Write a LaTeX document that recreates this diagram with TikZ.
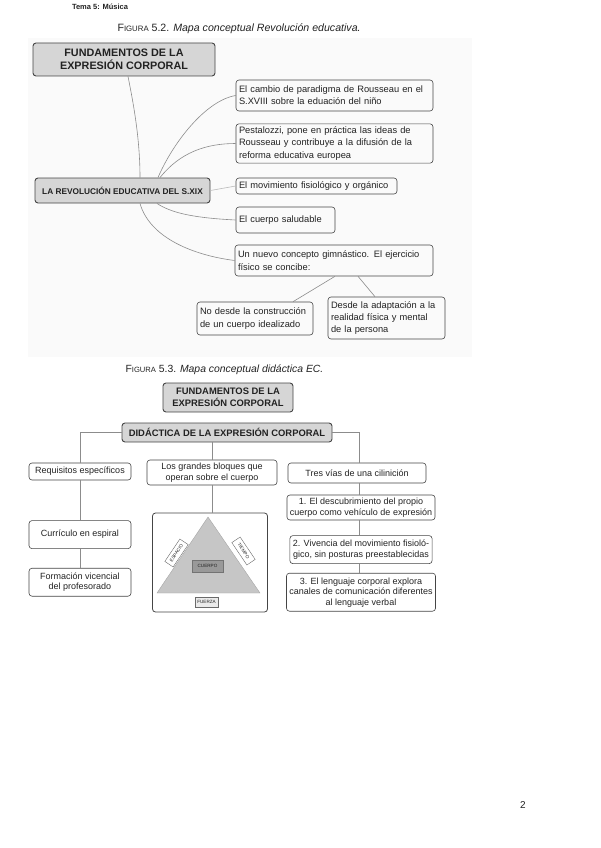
\documentclass[tikz,border=0pt]{standalone}
\usepackage{fontspec}
\setmainfont{Liberation Sans}
\usetikzlibrary{positioning}
\definecolor{ink}{HTML}{222222}
\definecolor{edge}{HTML}{454545}
\definecolor{wire}{HTML}{8C8C8C}
\definecolor{head}{HTML}{D6D6D6}
\definecolor{trigray}{HTML}{C6C6C6}
\tikzset{
  nd/.style={rectangle, rounded corners=3pt, draw=edge, line width=0.6pt, text=ink, inner sep=3pt},
  ndl/.style={nd, align=left, font=\fontsize{9.3}{12.3}\selectfont},
  ndc/.style={nd, align=center, font=\fontsize{9}{10.5}\selectfont},
  hd/.style={rectangle, rounded corners=3pt, draw=edge, line width=0.9pt, fill=head, text=ink, align=center},
  ln/.style={draw=wire, line width=0.6pt},
  tag/.style={rectangle, draw=edge!80, fill=white, line width=0.4pt, inner sep=1pt, text=ink, font=\fontsize{4.6}{5}\selectfont},
  node distance=12pt
}
\begin{document}
\begin{tikzpicture}[x=1pt,y=-1pt]
	\useasboundingbox (0,0) rectangle (600,848);
	\fill[black!2] (28,38) rectangle (472,357);

	% heading and captions
	\node[text=ink, font=\bfseries\fontsize{7.5}{9}\selectfont] (tema) at (100,7) {Tema 5: Música};
	\node[text=ink, anchor=west, font=\fontsize{10.6}{12}\selectfont] (cap1) at (114,29) {F{\fontsize{7.8}{9}\selectfont IGURA} 5.2. \textit{Mapa conceptual Revolución educativa.}};
	\node[text=ink, anchor=west, font=\fontsize{10.4}{12}\selectfont] (cap2) at (122,370) {F{\fontsize{7.6}{9}\selectfont IGURA} 5.3. \textit{Mapa conceptual didáctica EC.}};
	\node[text=ink, font=\fontsize{10}{12}\selectfont] (page) at (523,805) {2};

	% Figura 5.2
	\node[hd, minimum width=182pt, minimum height=33pt, font=\bfseries\fontsize{10.8}{12.5}\selectfont] (fund) at (124,59.5) {FUNDAMENTOS DE LA\\EXPRESIÓN CORPORAL};
	\node[hd, minimum width=175pt, minimum height=25pt, font=\bfseries\fontsize{8.3}{10}\selectfont] (rev) at (122.5,190.5) {LA REVOLUCIÓN EDUCATIVA DEL S.XIX};
	\node[ndl, text width=191pt, minimum height=31pt] (rousseau) at (334.5,95.5) {El cambio de paradigma de Rousseau en el\\S.XVIII sobre la eduación del niño};
	\node[ndl, text width=191pt, minimum height=39pt] (pestalozzi) at (334.5,143.5) {Pestalozzi, pone en práctica las ideas de\\Rousseau y contribuye a la difusión de la\\reforma educativa europea};
	\node[ndl, text width=155pt, minimum height=16pt] (fisio) at (316.5,186) {El movimiento fisiológico y orgánico};
	\node[ndl, text width=93pt, minimum height=26pt] (salud) at (285.5,220) {El cuerpo saludable};
	\node[ndl, text width=192pt, minimum height=31pt] (gimna) at (334,260.5) {Un nuevo concepto gimnástico. El ejercicio\\físico se concibe:};
	\node[ndl, text width=110pt, minimum height=33pt] (ideal) at (255,318.5) {No desde la construcción\\de un cuerpo idealizado};
	\node[ndl, text width=111pt, minimum height=42pt] (adapt) at (386.5,318) {Desde la adaptación a la\\realidad física y mental\\de la persona};

	\draw[ln] ([xshift=4pt]fund.south) .. controls +(5,25) and +(0,-40) .. ([xshift=17.5pt]rev.north);
	\draw[ln] ([xshift=35.5pt]rev.north) .. controls +(15,-35) and +(-30,5) .. (rousseau.west);
	\draw[ln] ([xshift=37.5pt]rev.north) .. controls +(20,-25) and +(-30,0) .. (pestalozzi.west);
	\draw[ln, draw=wire!60] (rev.east) -- (fisio.west);
	\draw[ln] ([xshift=34.5pt]rev.south) .. controls +(15,10) and +(-40,-2) .. (salud.west);
	\draw[ln] ([xshift=17.5pt]rev.south) .. controls +(10,35) and +(-40,-5) .. (gimna.west);
	\draw[ln] ([xshift=1pt]gimna.south) -- ([xshift=38pt]ideal.north);
	\draw[ln] ([xshift=24pt]gimna.south) -- ([xshift=-11.5pt]adapt.north);

	% Figura 5.3
	\node[hd, minimum width=130pt, minimum height=29pt, font=\bfseries\fontsize{9.4}{11.5}\selectfont] (fund2) at (228,397.5) {FUNDAMENTOS DE LA\\EXPRESIÓN CORPORAL};
	\node[hd, minimum width=210pt, minimum height=19pt, font=\bfseries\fontsize{9.4}{11}\selectfont] (didac) at (227,432.5) {DIDÁCTICA DE LA EXPRESIÓN CORPORAL};
	\node[ndc, minimum width=102pt, minimum height=17pt] (requi) at (80,471.5) {Requisitos específicos};
	\node[ndc, minimum width=130pt, minimum height=25pt] (bloques) at (212,472.5) {Los grandes bloques que\\operan sobre el cuerpo};
	\node[ndc, minimum width=138pt, minimum height=20pt] (vias) at (357,473) {Tres vías de una cilinición};
	\node[ndc, minimum width=102pt, minimum height=28pt, below=40pt of requi] (espiral) {Currículo en espiral};
	\node[ndc, minimum width=102pt, minimum height=28pt, below=19pt of espiral] (formac) {Formación vicencial\\del profesorado};
	\node[nd, minimum width=115pt, minimum height=99pt, line width=0.8pt] (tribox) at (210,562.5) {};
	\node[ndc, minimum width=139pt, minimum height=25pt] (via1) at (361,507.5) {1. El descubrimiento del propio\\cuerpo como vehículo de expresión};
	\node[ndc, minimum width=139pt, minimum height=28pt, below=15pt of via1] (via2) {2. Vivencia del movimiento fisioló-\\gico, sin posturas preestablecidas};
	\node[ndc, minimum width=139pt, minimum height=38pt, below=9pt of via2] (via3) {3. El lenguaje corporal explora\\canales de comunicación diferentes\\al lenguaje verbal};

	% triangulo
	\coordinate (apex) at (208,517);
	\coordinate (baseL) at (157,593);
	\coordinate (baseR) at (260,593);
	\fill[trigray, draw=black!35, line width=0.4pt] (apex) -- (baseL) -- (baseR) -- cycle;
	\node[tag, fill=black!40, draw=black!55, minimum width=31pt, minimum height=12pt] (cuerpo) at (207.5,566) {CUERPO};
	\node[tag, fill=black!8, minimum width=23pt, minimum height=10pt] (fuerza) at (206.5,602) {FUERZA};
	\node[tag, rotate=56, minimum width=27pt, minimum height=10pt] (espacio) at (176.5,553) {ESPACIO};
	\node[tag, rotate=-56, minimum width=27pt, minimum height=10pt] (tiempo) at (243.5,551) {TIEMPO};

	\draw[ln] (didac.west) -| (requi.north);
	\draw[ln] (didac.east) -| ([xshift=2pt]vias.north);
	\draw[ln] (didac.south -| bloques.north) -- (bloques.north);
	\draw[ln] (bloques.south) -- (bloques.south |- tribox.north);
	\draw[ln] (requi.south) -- (espiral.north);
	\draw[ln] (espiral.south) -- (formac.north);
	\draw[ln] ([xshift=2pt]vias.south) -- ([xshift=2pt]vias.south |- via1.north);
	\draw[ln] ([xshift=-2pt]via1.south) -- ([xshift=-2pt]via2.north);
	\draw[ln] ([xshift=-2pt]via2.south) -- ([xshift=-2pt]via3.north);
\end{tikzpicture}
\end{document}
